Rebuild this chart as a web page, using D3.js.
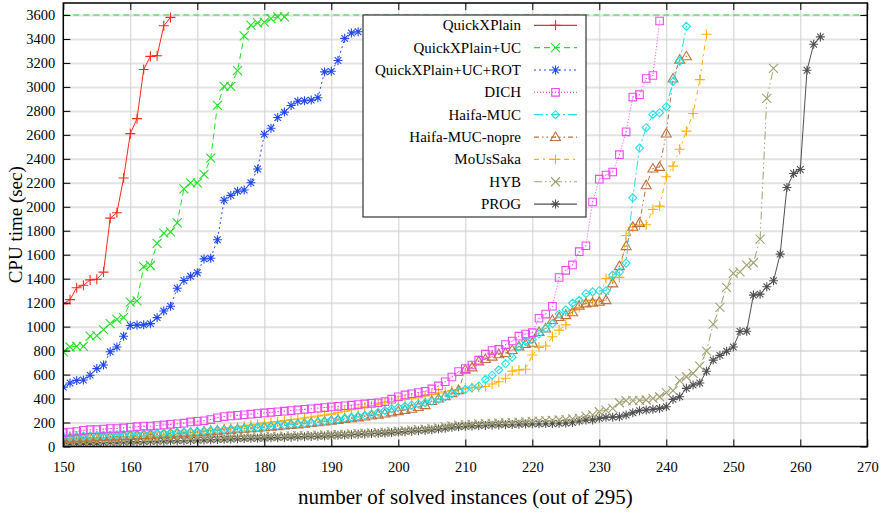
<!DOCTYPE html>
<html>
<head>
<meta charset="utf-8">
<script src="https://cdn.jsdelivr.net/npm/d3@7"></script>
<style>
  body { margin: 0; background: #fff; }
  svg text { font-family: "Liberation Serif", "DejaVu Serif", serif; fill: #000; }
</style>
</head>
<body>
<script>
// ---------- data (CPU time in sec, one value per solved instance)

var names = ["QuickXPlain", "QuickXPlain+UC", "QuickXPlain+UC+ROT", "DICH", "Haifa-MUC",
             "Haifa-MUC-nopre", "MoUsSaka", "HYB", "PROG"];

// first instance index of each series
var firstInstance = [150, 150, 150, 150, 150, 150, 150, 150, 150];

var quickxplain = [1190, 1225, 1325, 1345, 1390, 1395, 1455, 1905, 1950, 2240, 2610, 2735, 3145, 3255, 3260, 3510, 3580];

var quickxplainUC = [790, 830, 835, 835, 920, 925, 975, 1025, 1060, 1075, 1205, 1215, 1500, 1510, 1695, 1780, 1790,
                     1865, 2150, 2200, 2200, 2270, 2405, 2845, 3005, 3005, 3135, 3425, 3515, 3535, 3540, 3570, 3585, 3585];

var quickxplainUCROT = [495, 530, 550, 555, 595, 650, 680, 790, 830, 920, 1010, 1013, 1015, 1025, 1075, 1130, 1170,
                        1320, 1385, 1420, 1450, 1565, 1570, 1725, 2055, 2095, 2130, 2140, 2200, 2315, 2605, 2655,
                        2745, 2790, 2845, 2880, 2885, 2890, 2910, 3125, 3130, 3220, 3405, 3450, 3460];

var dich = [115, 120, 125, 135, 140, 140, 145, 150, 150, 155,
            160, 165, 170, 170, 175, 180, 185, 190, 195, 205,
            210, 215, 225, 240, 250, 255, 260, 265, 270, 275,
            280, 285, 290, 295, 300, 305, 310, 315, 320, 325,
            330, 335, 340, 345, 350, 355, 360, 365, 375, 395,
            415, 430, 440, 450, 460, 480, 505, 540, 580, 625,
            650, 680, 720, 770, 800, 810, 850, 880, 920, 938,
            950, 1070, 1105, 1170, 1410, 1470, 1515, 1625, 1675, 2040,
            2230, 2265, 2290, 2435, 2625, 2915, 2935, 3070, 3095, 3550];

var haifaMUC = [80, 82, 85, 88, 90, 92, 95, 96, 98, 100,
                102, 104, 106, 108, 110, 112, 115, 118, 120, 122,
                125, 128, 132, 136, 140, 144, 148, 152, 156, 160,
                165, 170, 175, 180, 185, 190, 195, 200, 205, 212,
                220, 228, 236, 244, 252, 260, 270, 285, 300, 315,
                325, 335, 345, 355, 365, 380, 395, 415, 440, 460,
                475, 490, 505, 560, 595, 640, 690, 745, 830, 875,
                890, 940, 985, 1025, 1105, 1140, 1195, 1220, 1275, 1290,
                1300, 1300, 1430, 1455, 1530, 2075, 2490, 2660, 2770, 2785,
                2835, 3045, 3215, 3505];

var haifaMUCnopre = [65, 68, 70, 72, 75, 78, 80, 82, 85, 88,
                     90, 93, 96, 99, 102, 105, 108, 111, 114, 117,
                     120, 124, 128, 132, 136, 140, 144, 148, 152, 156,
                     160, 165, 170, 175, 180, 185, 190, 196, 202, 208,
                     215, 222, 229, 236, 243, 250, 258, 266, 275, 285,
                     295, 305, 315, 330, 345, 380, 400, 420, 445, 470,
                     640, 660, 710, 730, 750, 770, 780, 805, 835, 855,
                     866, 955, 985, 1055, 1080, 1096, 1120, 1175, 1194, 1200,
                     1207, 1221, 1361, 1505, 1672, 1833, 1865, 2180, 2319, 2333,
                     2611, 3070, 3228, 3256];

var mousSaka = [68, 69, 70, 71, 72, 74, 75, 77, 79, 81,
                82, 84, 86, 88, 90, 95, 100, 105, 110, 115,
                120, 127, 134, 141, 148, 155, 162, 170, 178, 186,
                195, 202, 209, 216, 223, 230, 238, 246, 254, 262,
                270, 282, 294, 306, 318, 330, 342, 354, 365, 375,
                385, 395, 403, 410, 422, 434, 446, 457, 467, 476,
                485, 490, 495, 500, 521, 540, 569, 629, 638, 644,
                763, 827, 838, 916, 971, 1015, 1138, 1160, 1216, 1221,
                1222, 1402, 1411, 1411, 1760, 1830, 1847, 1850, 1977, 2005,
                2250, 2339, 2480, 2631, 2778, 3061, 3439];

var hyb = [40, 41, 42, 43, 44, 45, 46, 47, 49, 50,
           52, 53, 55, 56, 58, 59, 61, 62, 64, 66,
           68, 69, 71, 72, 74, 75, 77, 78, 80, 81,
           82, 84, 85, 87, 88, 90, 91, 93, 95, 96,
           98, 100, 102, 105, 108, 111, 114, 117, 120, 124,
           128, 132, 136, 140, 145, 150, 155, 165, 172, 178,
           182, 185, 188, 190, 193, 196, 198, 200, 203, 206,
           209, 212, 215, 218, 221, 225, 230, 235, 254, 263,
           290, 304, 318, 365, 382, 382, 385, 388, 402, 415,
           449, 466, 549, 582, 610, 671, 795, 1021, 1160, 1327,
           1444, 1457, 1513, 1533, 1730, 2905, 3155];

var prog = [25, 26, 27, 28, 30, 31, 32, 34, 35, 37,
            38, 40, 41, 43, 44, 46, 47, 48, 50, 51,
            52, 54, 56, 58, 60, 62, 64, 66, 68, 69,
            70, 72, 74, 76, 78, 80, 82, 84, 86, 88,
            90, 93, 96, 99, 102, 105, 108, 110, 112, 116,
            120, 124, 128, 132, 136, 140, 145, 152, 160, 165,
            168, 171, 174, 176, 178, 180, 182, 184, 186, 188,
            189, 190, 191, 192, 193, 195, 200, 213, 221, 222,
            235, 243, 245, 248, 263, 282, 299, 304, 310, 318,
            332, 393, 415, 485, 513, 530, 628, 721, 760, 795,
            830, 960, 962, 1263, 1271, 1333, 1383, 1605, 2161, 2278,
            2311, 3139, 3356, 3417];

var seriesValues = [quickxplain, quickxplainUC, quickxplainUCROT, dich, haifaMUC,
                    haifaMUCnopre, mousSaka, hyb, prog];

var timeout = 3600;
var xTicks = d3.range(150, 271, 10);
var yTicks = d3.range(0, 3601, 200);

// ---------- styles

var styles = [
  { color: "#f8281a", dash: null,              marker: "plus" },
  { color: "#22e022", dash: "6,4",             marker: "cross" },
  { color: "#2048f0", dash: "2,3",             marker: "star" },
  { color: "#f048f0", dash: "1,2",             marker: "square" },
  { color: "#20e0e8", dash: "9,3,2,3",         marker: "diamond" },
  { color: "#c0703c", dash: "5,3,1.5,3,1.5,3", marker: "triangle" },
  { color: "#ffb000", dash: "5,4,2,4",         marker: "plus" },
  { color: "#a0a070", dash: "8,3,1.5,3,1.5,3", marker: "cross" },
  { color: "#505050", dash: null,              marker: "star" }
];

var markerPaths = {
  plus:     "M-5,0H5M0,-5V5",
  cross:    "M-4.5,-4.5L4.5,4.5M-4.5,4.5L4.5,-4.5",
  star:     "M-4.5,0H4.5M0,-4.5V4.5M-3.3,-3.3L3.3,3.3M-3.3,3.3L3.3,-3.3",
  square:   "M-3.8,-3.8H3.8V3.8H-3.8ZM-0.5,0H0.5",
  diamond:  "M0,-4L4,0L0,4L-4,0ZM-0.5,0H0.5",
  triangle: "M0,-5L5,3.5H-5ZM-0.5,0H0.5"
};

// ---------- layout  (note: "top" is taken by window.top, so prefixed names)

var w = 889, h = 516;
var plotL = 63.3, plotR = 867.3, plotT = 3, plotB = 446.5;

var xScale = d3.scaleLinear().domain([150, 270]).range([plotL, plotR]);
var yScale = d3.scaleLinear().domain([0, 3700]).range([plotB, plotT]);

var svg = d3.select("body").append("svg")
            .attr("width", w)
            .attr("height", h);

svg.append("clipPath").attr("id", "plotclip")
   .append("rect")
   .attr("x", plotL).attr("y", plotT)
   .attr("width", plotR - plotL).attr("height", plotB - plotT);

// grid
svg.append("g")
   .attr("transform", "translate(" + plotL + ",0)")
   .call(d3.axisLeft(yScale).tickValues(yTicks).tickSize(-(plotR - plotL)).tickFormat(""))
   .call(function(g) { g.select(".domain").remove(); })
   .selectAll("line")
   .attr("stroke", "#e3e3e3")
   .attr("stroke-width", 2);

svg.append("g")
   .attr("transform", "translate(0," + plotB + ")")
   .call(d3.axisBottom(xScale).tickValues(xTicks.slice(1, -1)).tickSize(-(plotB - plotT)).tickFormat(""))
   .call(function(g) { g.select(".domain").remove(); })
   .selectAll("line")
   .attr("stroke", "#d0d0d0")
   .attr("stroke-width", 1);

// timeout line
svg.append("line")
   .attr("x1", plotL).attr("x2", plotR)
   .attr("y1", yScale(timeout)).attr("y2", yScale(timeout))
   .attr("stroke", styles[1].color)
   .attr("stroke-width", 1.2)
   .attr("stroke-dasharray", styles[1].dash);

// series
var series = names.map(function(name, i) {
  return {
    name: name,
    style: styles[i],
    points: seriesValues[i].map(function(v, j) { return { x: firstInstance[i] + j, y: v }; })
  };
});

var line = d3.line()
             .x(function(d) { return xScale(d.x); })
             .y(function(d) { return yScale(d.y); });

var plot = svg.append("g").attr("clip-path", "url(#plotclip)");

var groups = plot.selectAll("g.series")
   .data(series.slice().reverse())
   .enter()
   .append("g")
   .attr("class", "series");

groups.append("path")
   .attr("d", function(d) { return line(d.points); })
   .attr("fill", "none")
   .attr("stroke", function(d) { return d.style.color; })
   .attr("stroke-width", 1)
   .attr("stroke-dasharray", function(d) { return d.style.dash; });

groups.selectAll("path.mark")
   .data(function(d) { return d.points.map(function(p) { return { p: p, s: d.style }; }); })
   .enter()
   .append("path")
   .attr("class", "mark")
   .attr("transform", function(d) { return "translate(" + xScale(d.p.x) + "," + yScale(d.p.y) + ")"; })
   .attr("d", function(d) { return markerPaths[d.s.marker]; })
   .attr("fill", "none")
   .attr("stroke", function(d) { return d.s.color; })
   .attr("stroke-width", 1.1);

// axes: inward ticks on all four sides
var yAxis = svg.append("g")
   .attr("transform", "translate(" + plotL + ",0)")
   .call(d3.axisLeft(yScale).tickValues(yTicks).tickFormat(d3.format("d"))
           .tickSizeInner(-7).tickSizeOuter(0).tickPadding(8));

var xAxis = svg.append("g")
   .attr("transform", "translate(0," + plotB + ")")
   .call(d3.axisBottom(xScale).tickValues(xTicks).tickFormat(d3.format("d"))
           .tickSizeInner(-7).tickSizeOuter(0).tickPadding(15));

var yAxisR = svg.append("g")
   .attr("transform", "translate(" + plotR + ",0)")
   .call(d3.axisRight(yScale).tickValues(yTicks).tickSizeInner(-7).tickSizeOuter(0).tickFormat(""));

var xAxisT = svg.append("g")
   .attr("transform", "translate(0," + plotT + ")")
   .call(d3.axisTop(xScale).tickValues(xTicks).tickSizeInner(-7).tickSizeOuter(0).tickFormat(""));

[yAxis, xAxis, yAxisR, xAxisT].forEach(function(g) {
  g.select(".domain").remove();
  g.selectAll("line").attr("stroke", "#000").attr("stroke-width", 1);
  g.selectAll("text")
   .attr("font-family", "Liberation Serif, serif")
   .attr("font-size", "14.5px")
   .attr("fill", "#000");
});

// frame
svg.append("rect")
   .attr("x", plotL).attr("y", plotT)
   .attr("width", plotR - plotL).attr("height", plotB - plotT)
   .attr("fill", "none")
   .attr("stroke", "#000")
   .attr("stroke-width", 1.5);

// axis titles
svg.append("text")
   .attr("x", (plotL + plotR) / 2)
   .attr("y", 504)
   .attr("text-anchor", "middle")
   .attr("font-size", "21px")
   .text("number of solved instances (out of 295)");

svg.append("text")
   .attr("transform", "translate(22," + ((plotT + plotB) / 2) + ") rotate(-90)")
   .attr("text-anchor", "middle")
   .attr("font-size", "19px")
   .text("CPU time (sec)");

// legend
var lx = 363, ly = 15, lw = 223, lh = 202, rowH = 22.35;
var legend = svg.append("g");

legend.append("rect")
   .attr("x", lx).attr("y", ly)
   .attr("width", lw).attr("height", lh)
   .attr("fill", "#fff")
   .attr("stroke", "#333")
   .attr("stroke-width", 1.2);

var rows = legend.selectAll("g.row")
   .data(series)
   .enter()
   .append("g")
   .attr("class", "row")
   .attr("transform", function(d, i) { return "translate(0," + (ly + 10.3 + i * rowH) + ")"; });

rows.append("text")
   .attr("x", 521)
   .attr("dy", "0.33em")
   .attr("text-anchor", "end")
   .attr("font-size", "15px")
   .text(function(d) { return d.name; });

rows.append("line")
   .attr("x1", 534).attr("x2", 577)
   .attr("stroke", function(d) { return d.style.color; })
   .attr("stroke-width", 1.2)
   .attr("stroke-dasharray", function(d) { return d.style.dash; });

rows.append("path")
   .attr("transform", "translate(555.5,0)")
   .attr("d", function(d) { return markerPaths[d.style.marker]; })
   .attr("fill", "none")
   .attr("stroke", function(d) { return d.style.color; })
   .attr("stroke-width", 1.1);
</script>
</body>
</html>
